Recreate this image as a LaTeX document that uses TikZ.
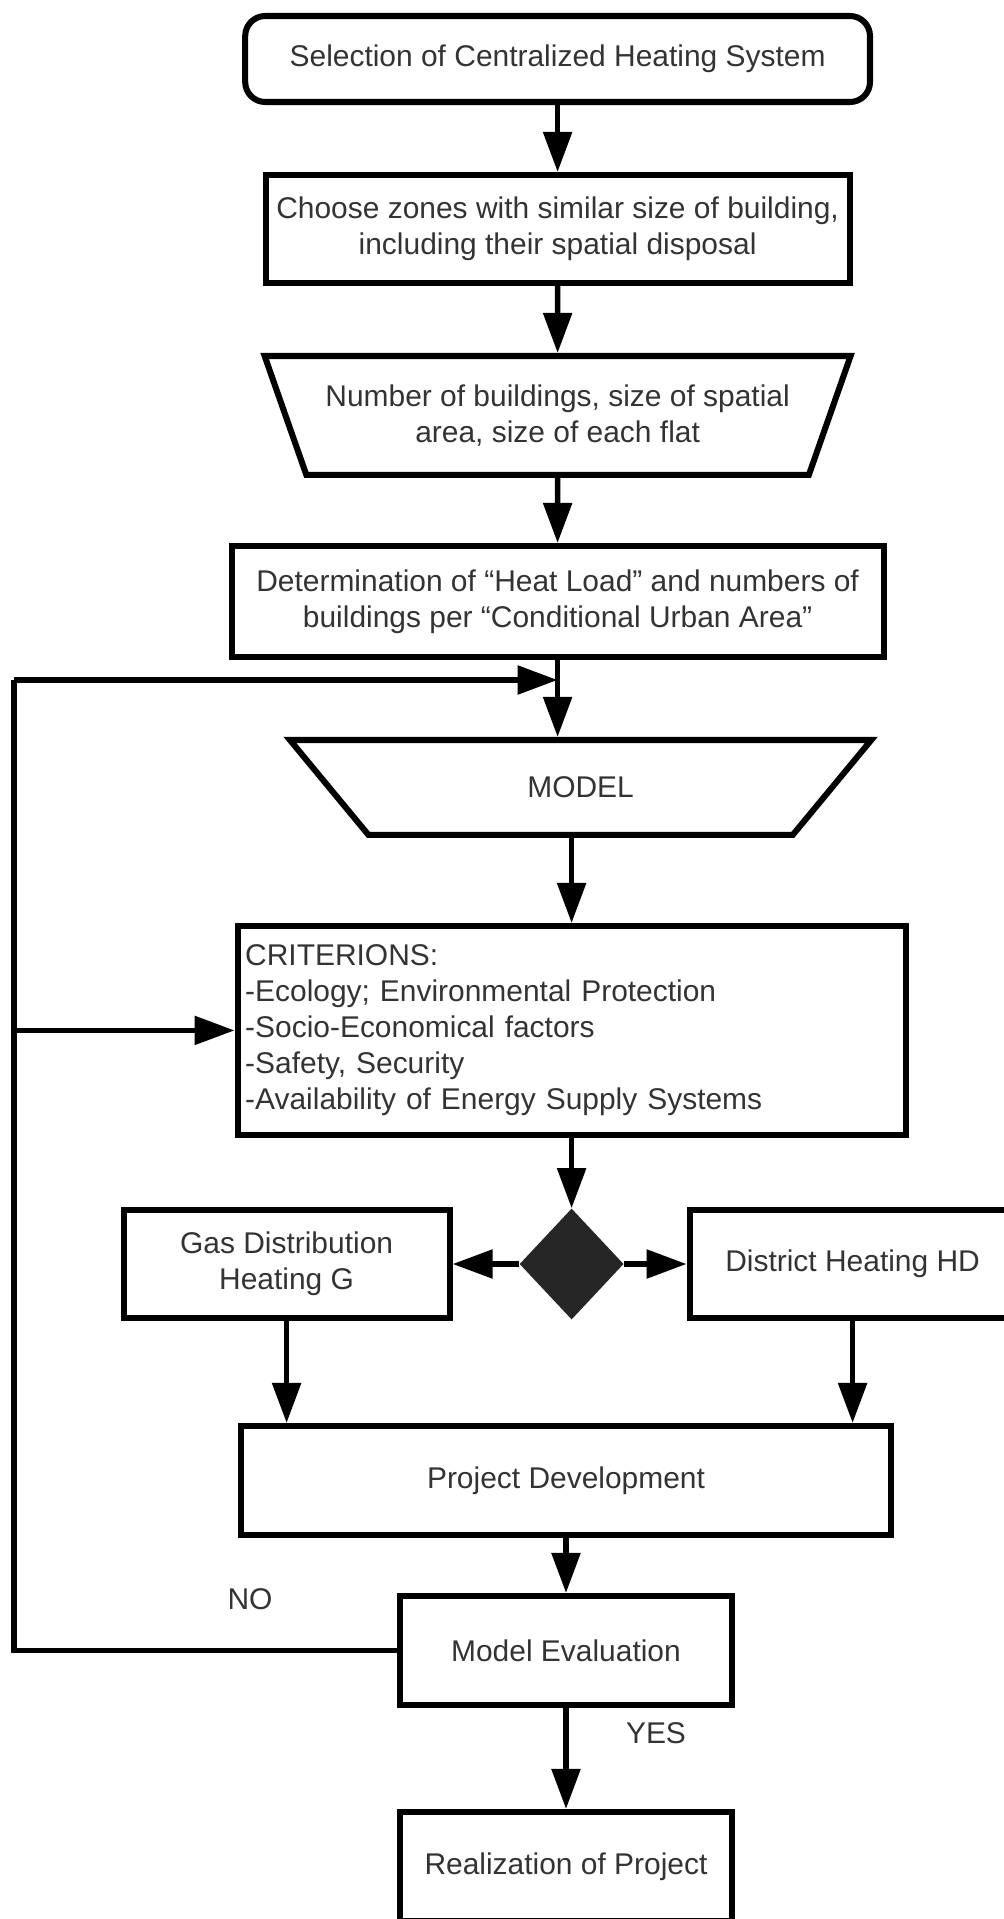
\documentclass[tikz,border=0pt]{standalone}
\usepackage{fontspec}
\setmainfont{Liberation Sans}
\usetikzlibrary{shapes.geometric, arrows.meta, positioning}

\begin{document}
\begin{tikzpicture}[node distance=4.25cm,
  box/.style={rectangle, draw, line width=4.3pt, minimum width=8.15cm, minimum height=2.72cm, align=center, text=black!80, font=\fontsize{21.3}{25.6}\selectfont},
  slab/.style={box, trapezium, shape border rotate=180, trapezium stretches=true},
  dec/.style={diamond, fill=black!85, minimum width=2.6cm, minimum height=2.775cm, inner sep=0pt},
  arr/.style={-{Triangle[length=1cm, width=0.7cm]}, line width=3.9pt},
  lbl/.style={text=black!80, font=\fontsize{21.3}{25.6}\selectfont}]

\useasboundingbox (0,0) rectangle (25.075,-47.975);

\node[box, rounded corners=0.5cm, minimum width=15.62cm, minimum height=2.15cm] (sel) at (13.94,-1.475) {Selection of Centralized Heating System};
\node[box, below of=sel, minimum width=14.6cm, minimum height=2.7cm] (zones) {Choose zones with similar size of building,\\including their spatial disposal};
\node[slab, below of=zones, node distance=4.66cm, trapezium angle=61, minimum width=14.72cm, minimum height=2.97cm] (flats) {Number of buildings, size of spatial\\area, size of each flat};
\node[box, below of=flats, node distance=4.65cm, minimum width=16.3cm, minimum height=2.77cm] (heat) {Determination of ``Heat Load'' and numbers of\\buildings per ``Conditional Urban Area''};
\node[slab, below of=heat, node distance=4.65cm, xshift=0.575cm, trapezium angle=55, minimum width=14.55cm, minimum height=2.37cm] (model) {MODEL};
\node[box, below of=model, node distance=6.075cm, xshift=-0.225cm, minimum width=16.7cm, minimum height=5.22cm, align=left, text width=16.32cm, inner xsep=0.19cm] (crit) {CRITERIONS:\\-Ecology; Environmental Protection\\-Socio-Economical factors\\-Safety, Security\\-Availability of Energy Supply Systems};

\node[dec, below of=crit, node distance=5.84cm] (dia) {};
\node[box, left of=dia, node distance=7.125cm] (gas) {Gas Distribution\\Heating G};
\node[box, right of=dia, node distance=7.025cm] (dh) {District Heating HD};

\node[box, below of=dia, node distance=5.41cm, xshift=-0.14cm, minimum width=16.25cm] (proj) {Project Development};
\node[box, below of=proj, minimum width=8.3cm] (eval) {Model Evaluation};
\node[box, below of=eval, node distance=5.4cm, minimum width=8.3cm] (real) {Realization of Project};

\node[lbl] (no) at (6.25,-39.975) {NO};
\node[lbl] (yes) at (16.4,-43.325) {YES};

% main flow
\draw[arr] (sel) -- (zones);
\draw[arr] (zones) -- (flats);
\draw[arr] (flats) -- (heat);
\draw[arr] (heat.south) -- (heat.south |- model.north);
\draw[arr] (crit.north |- model.south) -- (crit.north);
\draw[arr] (crit) -- (dia);
\draw[arr] (dia) -- (gas);
\draw[arr] (dia) -- (dh);
\draw[arr] (gas.south) -- (gas.south |- proj.north);
\draw[arr] (dh.south) -- (dh.south |- proj.north);
\draw[arr] (proj) -- (eval);
\draw[arr] (eval) -- (real);

% NO loop back
\coordinate (fbtop) at (0.35,-17.0);
\draw[line width=3.9pt] (eval.west) -| (fbtop);
\draw[arr] (fbtop) -- (fbtop -| heat.south);
\draw[arr] (fbtop |- crit.west) -- (crit.west);

\end{tikzpicture}
\end{document}
